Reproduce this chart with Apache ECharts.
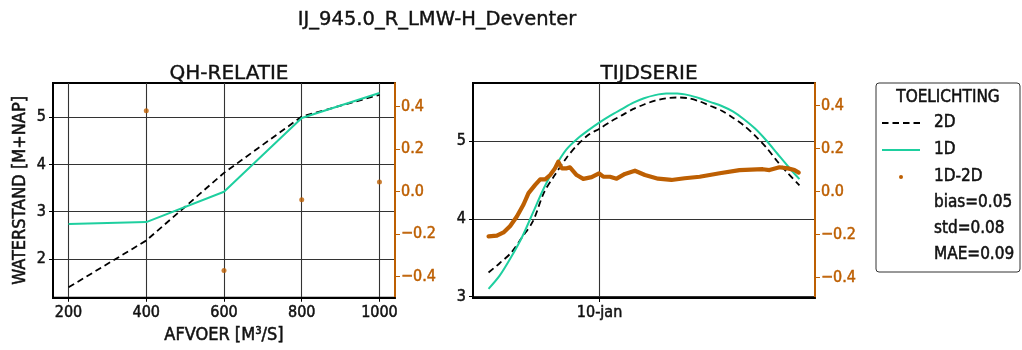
<!DOCTYPE html>
<html><head><meta charset="utf-8">
<script src="https://cdn.jsdelivr.net/npm/echarts@6/dist/echarts.min.js"></script>
<style>html,body{margin:0;padding:0;background:#fff}#c{width:1022px;height:350px}</style>
</head><body><div id="c"></div>
<script>
const FONT = '"DejaVu Sans Condensed", "DejaVu Sans", sans-serif';
const TFONT = '"DejaVu Sans", sans-serif';
const GREEN = '#1ecf9f';
const ORANGE = '#bd5f02';

const mainTitle = 'IJ_945.0_R_LMW-H_Deventer';
const qhTitle = 'QH-RELATIE';
const tsTitle = 'TIJDSERIE';
const qhXName = 'AFVOER [M³/S]';
const qhYName = 'WATERSTAND [M+NAP]';

// QH relation
const qhDischarge = [200, 400, 600, 800, 1000];
const qh2D = [1.40, 2.39, 3.82, 5.01, 5.47];
const qh1D = [2.74, 2.78, 3.42, 4.98, 5.51];
const qhDiffDischarge = [400, 600, 800, 1000];
const qhDiff = [0.38, -0.372, -0.039, 0.044];
const qhXTicks = [200, 400, 600, 800, 1000];
const qhYTicks = [2, 3, 4, 5];
const diffTicks = [-0.4, -0.2, 0, 0.2, 0.4];

// Time series (hours since 7-jan 12:00)
const tsHours = [0,6,12,18,24,30,36,42,48,54,60,66,72,78,84,90,96,102,108,114,120,126,132,138,144,150,156,162,168];
const ts2D = [3.31,3.43,3.56,3.76,3.97,4.34,4.57,4.78,4.95,5.08,5.16,5.25,5.33,5.41,5.47,5.52,5.55,5.56,5.55,5.51,5.45,5.39,5.30,5.20,5.07,4.92,4.74,4.58,4.43];
const ts1D = [3.10,3.27,3.50,3.76,4.08,4.40,4.67,4.89,5.03,5.14,5.24,5.33,5.41,5.49,5.55,5.59,5.61,5.61,5.59,5.55,5.50,5.45,5.38,5.28,5.16,5.01,4.84,4.67,4.51];
const tsDiffHours = [0,4.5,8.1,11.7,15.3,18.9,21.6,25.2,27.9,30.6,33.3,35.9,37.7,39.6,42.3,44.0,47.6,51.2,55.7,59.7,62.0,65.6,69.2,73.7,79.1,84.5,91.6,98.8,106.0,114.1,124.9,135.6,148.2,151.8,157.2,161.7,165.3,167.6];
const tsDiff = [-0.208,-0.205,-0.19,-0.16,-0.116,-0.06,-0.007,0.031,0.057,0.057,0.077,0.108,0.139,0.108,0.108,0.113,0.077,0.059,0.067,0.085,0.069,0.069,0.06,0.082,0.097,0.077,0.06,0.054,0.062,0.069,0.085,0.10,0.104,0.10,0.113,0.108,0.10,0.088];
const tsXTickHours = [60];
const tsXTickLabels = ['10-jan'];
const tsYTicks = [3, 4, 5];

// Legend
const legendTitle = 'TOELICHTING';
const legendNames = ['2D', '1D', '1D-2D'];
const statsLines = ['bias=0.05', 'std=0.08', 'MAE=0.09'];

const zip = (a, b) => a.map((v, i) => [v, b[i]]);
const fmtDiff = v => (Math.abs(v) < 1e-9 ? 0 : v).toFixed(1).replace('-', '\u2212');
const lbl = (extra) => {
  const o = Object.assign({fontFamily: FONT, fontSize: 16, color: '#111'}, extra || {});
  o.textBorderColor = o.color; o.textBorderWidth = 0.5;
  return o;
};
const grid1 = {left: 53, top: 83, width: 342, height: 215, show: true, borderColor: '#000', borderWidth: 2, backgroundColor: '#fff'};
const grid2 = {left: 473, top: 83, width: 342, height: 215, show: true, borderColor: '#000', borderWidth: 2, backgroundColor: '#fff'};
const splitLn = {show: true, lineStyle: {color: '#333', width: 1.1}};
const DASH = [6.5, 4];

const chart = echarts.init(document.getElementById('c'), null, {renderer: 'canvas'});

const legendY = [123, 150, 177];
const statsY = [203, 229, 255];
const txtStyle = (t, align) => ({text: t, font: '17px ' + FONT, fill: '#111', stroke: '#111', lineWidth: 0.5, textAlign: align || 'left', textVerticalAlign: 'middle'});
const graphics = [
  {type: 'rect', shape: {x: 876, y: 83, width: 144, height: 189, r: 3}, style: {fill: '#fff', stroke: '#333', lineWidth: 1}, z: 10},
  {type: 'text', x: 948, y: 98, style: txtStyle(legendTitle, 'center'), z: 11},
  {type: 'line', shape: {x1: 882, y1: legendY[0], x2: 920, y2: legendY[0]}, style: {stroke: '#000', lineWidth: 1.8, lineDash: DASH}, z: 11},
  {type: 'line', shape: {x1: 882, y1: legendY[1], x2: 920, y2: legendY[1]}, style: {stroke: GREEN, lineWidth: 2}, z: 11},
  {type: 'circle', shape: {cx: 901, cy: legendY[2], r: 2}, style: {fill: ORANGE}, z: 11}
];
legendNames.forEach((n, i) => graphics.push({type: 'text', x: 934, y: legendY[i], style: txtStyle(n), z: 11}));
statsLines.forEach((n, i) => graphics.push({type: 'text', x: 934, y: statsY[i], style: txtStyle(n), z: 11}));

const titleStyle = {fontFamily: TFONT, fontSize: 20, fontWeight: 'normal', color: '#111', textBorderColor: '#111', textBorderWidth: 0.4};
const option = {
  animation: false,
  backgroundColor: '#fff',
  title: [
    {text: mainTitle, left: 432, top: 5, textAlign: 'center', textStyle: Object.assign({}, titleStyle, {fontSize: 19.5})},
    {text: qhTitle, left: 224, top: 59, textAlign: 'center', textStyle: titleStyle},
    {text: tsTitle, left: 644, top: 59, textAlign: 'center', textStyle: titleStyle}
  ],
  grid: [grid1, grid2],
  xAxis: [
    {type: 'value', gridIndex: 0, min: 160, max: 1040,
      name: qhXName, nameLocation: 'middle', nameGap: 29, nameTextStyle: lbl({fontSize: 18}),
      axisLine: {show: true, onZero: false, lineStyle: {color: '#000', width: 2}},
      axisTick: {show: true, customValues: qhXTicks, length: 4, lineStyle: {color: '#000'}},
      axisLabel: Object.assign(lbl(), {customValues: qhXTicks, margin: 7, formatter: v => String(v)}),
      splitLine: splitLn},
    {type: 'value', gridIndex: 1, min: -8.4, max: 176.4,
      axisLine: {show: true, onZero: false, lineStyle: {color: '#000', width: 2}},
      axisTick: {show: true, customValues: tsXTickHours, length: 4, lineStyle: {color: '#000'}},
      axisLabel: Object.assign(lbl(), {customValues: tsXTickHours, margin: 7, formatter: v => tsXTickLabels[tsXTickHours.indexOf(v)] || ''}),
      splitLine: splitLn}
  ],
  yAxis: [
    {type: 'value', gridIndex: 0, min: 1.18, max: 5.72, position: 'left',
      name: qhYName, nameLocation: 'middle', nameGap: 24, nameTextStyle: lbl({fontSize: 18}),
      axisLine: {show: true, onZero: false, lineStyle: {color: '#000', width: 2}},
      axisTick: {show: true, customValues: qhYTicks, length: 4, lineStyle: {color: '#000'}},
      axisLabel: Object.assign(lbl(), {customValues: qhYTicks, margin: 7}),
      splitLine: splitLn},
    {type: 'value', gridIndex: 0, min: -0.5, max: 0.51, position: 'right',
      axisLine: {show: true, onZero: false, lineStyle: {color: ORANGE, width: 2}},
      axisTick: {show: true, customValues: diffTicks, length: 5, lineStyle: {color: ORANGE}},
      axisLabel: Object.assign(lbl({color: ORANGE}), {customValues: diffTicks, margin: 6, formatter: fmtDiff}),
      splitLine: {show: false}},
    {type: 'value', gridIndex: 1, min: 2.983, max: 5.746, position: 'left',
      axisLine: {show: true, onZero: false, lineStyle: {color: '#000', width: 2}},
      axisTick: {show: true, customValues: tsYTicks, length: 4, lineStyle: {color: '#000'}},
      axisLabel: Object.assign(lbl(), {customValues: tsYTicks, margin: 7}),
      splitLine: splitLn},
    {type: 'value', gridIndex: 1, min: -0.495, max: 0.505, position: 'right',
      axisLine: {show: true, onZero: false, lineStyle: {color: ORANGE, width: 2}},
      axisTick: {show: true, customValues: diffTicks, length: 5, lineStyle: {color: ORANGE}},
      axisLabel: Object.assign(lbl({color: ORANGE}), {customValues: diffTicks, margin: 6, formatter: fmtDiff}),
      splitLine: {show: false}}
  ],
  series: [
    {name: '2D', type: 'line', xAxisIndex: 0, yAxisIndex: 0, data: zip(qhDischarge, qh2D), showSymbol: false, lineStyle: {color: '#000', width: 1.8, type: DASH}, z: 3},
    {name: '1D', type: 'line', xAxisIndex: 0, yAxisIndex: 0, data: zip(qhDischarge, qh1D), showSymbol: false, lineStyle: {color: GREEN, width: 2}, z: 4},
    {name: '1D-2D', type: 'scatter', xAxisIndex: 0, yAxisIndex: 1, data: zip(qhDiffDischarge, qhDiff), symbolSize: 5, itemStyle: {color: ORANGE}, z: 5},
    {name: '2D', type: 'line', xAxisIndex: 1, yAxisIndex: 2, data: zip(tsHours, ts2D), smooth: 0.3, showSymbol: false, lineStyle: {color: '#000', width: 1.8, type: DASH}, z: 3},
    {name: '1D', type: 'line', xAxisIndex: 1, yAxisIndex: 2, data: zip(tsHours, ts1D), smooth: 0.3, showSymbol: false, lineStyle: {color: GREEN, width: 2}, z: 4},
    {name: '1D-2D', type: 'line', xAxisIndex: 1, yAxisIndex: 3, data: zip(tsDiffHours, tsDiff), showSymbol: false, lineStyle: {color: ORANGE, width: 4.2, cap: 'round', join: 'round'}, z: 5}
  ],
  graphic: graphics
};
chart.setOption(option);
</script></body></html>
